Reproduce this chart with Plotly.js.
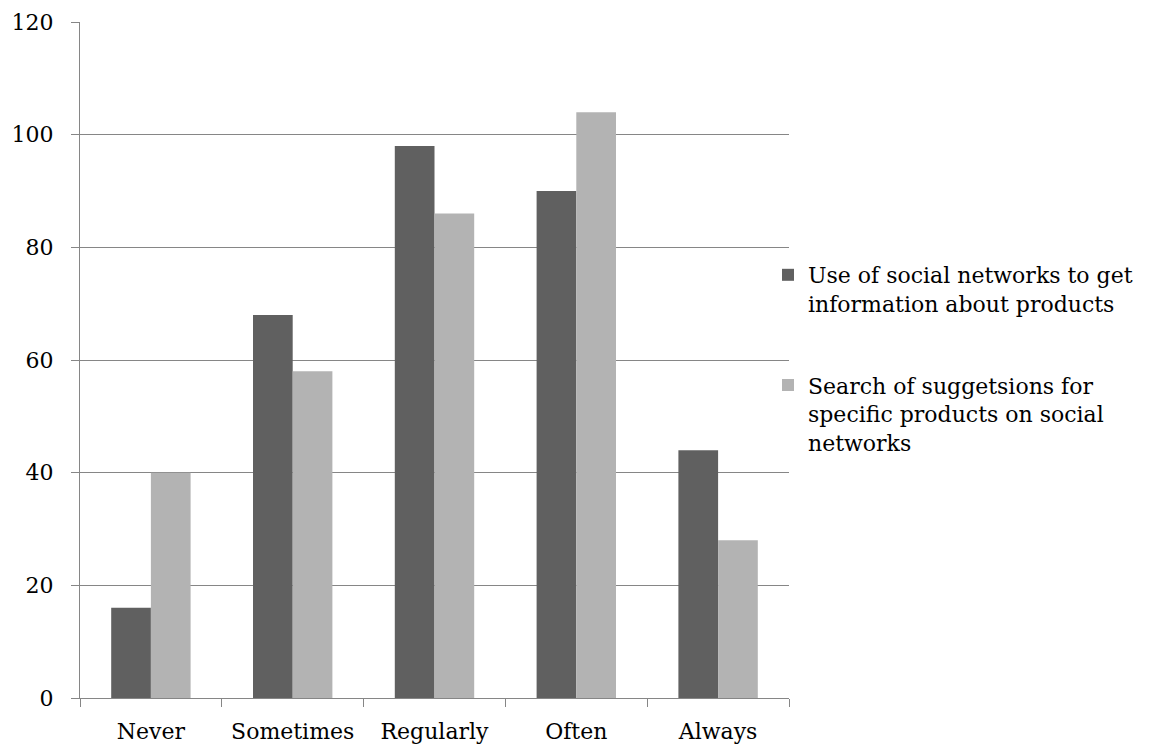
<!DOCTYPE html>
<html>
<head>
<meta charset="utf-8">
<script src="https://cdn.plot.ly/plotly-3.0.1.min.js"></script>
<style>
  html, body { margin: 0; padding: 0; background: #fff; }
  #chart { width: 1160px; height: 749px; }
</style>
</head>
<body>
<div id="chart"></div>
<script>
// Frequency categories on the x axis
const categories = ["Never", "Sometimes", "Regularly", "Often", "Always"];

// Series names (wrapped for the legend)
const seriesNames = [
  "Use of social networks to get<br>information about products",
  "Search of suggetsions for<br>specific products on social<br>networks"
];

// Counts per category
const useSocialNetworks = [16, 68, 98, 90, 44];
const searchSuggestions = [40, 58, 86, 104, 28];

const yTicks = [0, 20, 40, 60, 80, 100, 120];

const font = { family: "DejaVu Serif", size: 22, color: "#000" };
const axisGrey = "#868686";

const traces = [
  {
    type: "bar",
    name: seriesNames[0],
    x: categories,
    y: useSocialNetworks,
    marker: { color: "#606060" },
    legendgroup: "a",
    hoverinfo: "x+y"
  },
  {
    type: "bar",
    name: seriesNames[1],
    x: categories,
    y: searchSuggestions,
    marker: { color: "#b3b3b3" },
    legendgroup: "b",
    hoverinfo: "x+y"
  }
];

const layout = {
  width: 1160,
  height: 749,
  margin: { l: 80, r: 371, t: 22, b: 51, autoexpand: false },
  paper_bgcolor: "#fff",
  plot_bgcolor: "#fff",
  font: font,
  barmode: "group",
  bargap: 0.44,
  bargroupgap: 0,
  showlegend: true,
  legend: {
    x: 768 / 1160,
    xref: "container",
    y: 1 - 254 / 749,
    yref: "container",
    xanchor: "left",
    yanchor: "top",
    valign: "top",
    tracegroupgap: 50,
    bgcolor: "rgba(0,0,0,0)",
    font: font
  },
  xaxis: {
    type: "category",
    showgrid: false,
    showline: true,
    linecolor: axisGrey,
    linewidth: 1,
    ticks: "outside",
    tickson: "boundaries",
    ticklen: 8,
    tickcolor: axisGrey,
    tickfont: font,
    ticklabelstandoff: 14,
    fixedrange: true
  },
  yaxis: {
    range: [0, 120],
    tickvals: yTicks,
    ticktext: yTicks.map(String),
    showgrid: true,
    gridcolor: axisGrey,
    gridwidth: 1,
    showline: true,
    linecolor: axisGrey,
    linewidth: 1,
    zeroline: false,
    ticks: "outside",
    ticklen: 8,
    tickcolor: axisGrey,
    tickfont: font,
    ticklabelstandoff: 13,
    fixedrange: true
  }
};

Plotly.newPlot("chart", traces, layout, { displayModeBar: false, staticPlot: true });
</script>
</body>
</html>
